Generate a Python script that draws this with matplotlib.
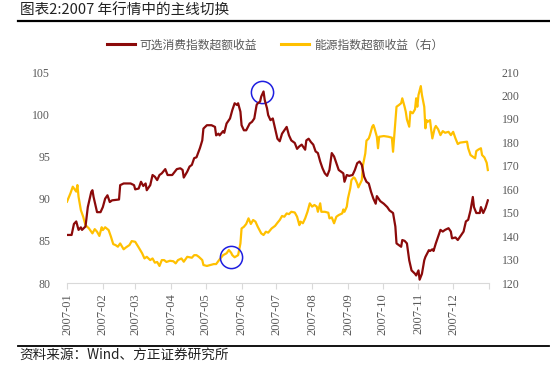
import matplotlib

matplotlib.use("Agg")
import matplotlib.pyplot as plt
import numpy as np
import pandas as pd
from matplotlib.lines import Line2D

plt.rcParams["font.family"] = ["Noto Sans CJK SC", "DejaVu Sans"]

# day offsets from 2007-01-01 and index values
red_day = [0, 4, 6, 8, 10, 12, 13, 16, 18, 21, 22, 23, 25, 26, 29, 31, 33, 35, 37, 39,
           45, 46, 49, 55, 58, 59, 62, 64, 66, 68, 69, 72, 74, 76, 78, 80, 82, 85, 87, 91,
           95, 98, 100, 101, 104, 106, 108, 110, 112, 115, 117, 118, 121, 125, 128, 129, 131, 132, 135, 136,
           138, 141, 143, 145, 147, 148, 150, 151, 153, 155, 158, 160, 162, 164, 165, 167, 168, 170, 171, 173,
           174, 176, 178, 180, 182, 184, 186, 189, 190, 192, 194, 197, 199, 201, 203, 206, 207, 209, 211, 213,
           215, 217, 219, 221, 223, 225, 227, 228, 229, 231, 233, 235, 237, 239, 240, 242, 244, 247, 249, 251,
           253, 255, 257, 259, 261, 263, 265, 267, 268, 271, 274, 277, 279, 282, 284, 285, 287, 289, 290, 292,
           294, 296, 298, 301, 302, 304, 305, 307, 309, 310, 313, 314, 316, 317, 319, 321, 323, 325, 327, 330,
           332, 333, 336, 338, 340, 343, 345, 347, 349, 351, 352, 354, 357, 358, 360, 362, 364]
red_val = [85.7, 85.7, 87.0, 87.3, 86.3, 86.6, 86.3, 86.7, 89.0, 90.8, 91.0, 90.2, 89.0, 88.4, 88.4, 89.0, 90.0, 90.4, 89.6, 89.8,
           89.9, 91.6, 91.8, 91.8, 91.6, 91.1, 91.2, 92.0, 91.5, 91.8, 91.0, 91.6, 92.8, 92.6, 92.2, 92.8, 93.0, 93.5, 92.8, 92.8,
           93.5, 93.6, 93.4, 92.5, 93.2, 93.8, 94.0, 94.8, 94.9, 96.0, 96.9, 98.3, 98.7, 98.7, 98.5, 97.5, 97.7, 97.5, 98.0, 97.8,
           98.9, 99.5, 100.5, 101.3, 101.1, 101.3, 100.3, 98.7, 98.1, 98.1, 98.9, 99.1, 99.5, 101.1, 101.3, 101.5, 102.1, 102.7, 101.7, 100.7,
           99.9, 99.3, 99.5, 98.3, 97.1, 96.8, 97.7, 98.3, 98.5, 97.5, 96.9, 96.6, 95.9, 96.2, 96.4, 95.8, 96.9, 97.1, 96.7, 96.4,
           95.6, 95.4, 94.4, 93.6, 93.0, 92.7, 93.4, 94.4, 95.4, 95.0, 94.2, 93.4, 93.2, 93.0, 92.0, 92.8, 92.7, 92.8, 93.4, 94.2,
           94.4, 94.0, 92.6, 92.0, 91.8, 90.8, 90.0, 89.4, 90.3, 89.7, 89.4, 89.0, 88.6, 88.3, 86.7, 84.7, 84.5, 84.3, 85.1, 85.0,
           84.7, 82.7, 81.5, 81.1, 80.9, 81.5, 80.4, 81.1, 82.7, 83.1, 83.9, 83.8, 84.0, 83.8, 84.7, 85.5, 86.3, 86.1, 86.3, 86.5,
           86.1, 85.3, 85.4, 85.1, 85.5, 86.1, 87.3, 87.5, 88.6, 90.2, 89.0, 88.3, 88.3, 89.0, 88.3, 88.9, 89.8]

yel_day = [0, 3, 5, 8, 9, 10, 12, 14, 16, 19, 22, 24, 26, 28, 30, 31, 33, 34, 36, 38,
           40, 42, 44, 46, 49, 51, 54, 56, 59, 62, 65, 67, 69, 72, 74, 76, 78, 80, 82, 84,
           86, 89, 92, 94, 96, 99, 101, 104, 106, 108, 110, 112, 114, 117, 118, 121, 124, 127, 129, 132,
           135, 138, 140, 142, 143, 145, 148, 150, 151, 153, 155, 157, 159, 161, 163, 165, 168, 170, 172, 174,
           177, 180, 182, 184, 186, 188, 190, 192, 194, 197, 199, 201, 202, 204, 206, 208, 210, 212, 214, 216,
           217, 219, 220, 223, 226, 227, 229, 231, 233, 235, 238, 239, 240, 242, 243, 245, 246, 248, 249, 251,
           252, 253, 255, 256, 258, 259, 261, 262, 264, 265, 266, 268, 269, 270, 274, 278, 281, 282, 283, 285,
           287, 289, 290, 292, 293, 294, 296, 297, 299, 301, 302, 303, 304, 306, 307, 309, 310, 311, 312, 314,
           315, 316, 318, 319, 321, 323, 325, 327, 330, 332, 334, 336, 338, 340, 346, 347, 349, 351, 353, 354,
           356, 358, 359, 361, 363, 364]
yel_val = [154.7, 158.3, 161.1, 159.0, 161.8, 156.8, 151.1, 148.3, 144.7, 143.3, 141.2, 143.0, 141.9, 140.1, 143.8, 142.6, 143.8, 143.4, 142.6, 139.8,
           136.6, 136.2, 135.5, 136.9, 134.4, 135.2, 136.2, 137.9, 137.6, 135.2, 132.7, 130.5, 131.2, 129.8, 130.5, 128.7, 129.0, 127.3, 129.8, 129.8,
           129.0, 129.5, 129.3, 128.4, 129.8, 130.5, 129.1, 131.2, 131.0, 130.8, 131.9, 131.9, 131.2, 129.8, 127.7, 127.3, 127.7, 128.1, 128.1, 130.1,
           131.9, 132.7, 134.1, 132.9, 131.9, 131.0, 131.9, 136.9, 143.3, 144.0, 145.2, 147.6, 145.2, 146.9, 146.2, 144.0, 141.2, 140.5, 141.9, 141.5,
           143.3, 144.4, 145.7, 146.9, 148.6, 148.3, 149.7, 149.4, 150.4, 150.1, 148.3, 144.7, 146.2, 145.5, 147.6, 150.4, 154.0, 152.6, 153.3, 152.6,
           150.4, 154.0, 150.4, 150.4, 150.0, 147.6, 148.0, 145.5, 148.3, 149.0, 149.7, 151.4, 150.4, 152.6, 156.1, 160.4, 163.9, 165.1, 164.7, 162.5,
           160.8, 161.8, 163.9, 170.3, 175.3, 180.7, 181.7, 183.1, 186.7, 187.4, 186.0, 182.4, 177.5, 182.4, 182.7, 182.4, 182.0, 176.0, 182.4, 195.2,
           195.9, 196.7, 198.8, 195.2, 193.1, 189.8, 186.7, 193.1, 192.4, 194.1, 198.8, 195.2, 200.2, 204.0, 200.2, 195.2, 186.0, 189.5, 188.8, 189.5,
           185.3, 181.7, 186.0, 187.0, 185.6, 183.1, 184.8, 184.1, 184.5, 183.1, 184.5, 181.7, 179.3, 179.9, 180.3, 177.5, 174.6, 173.9, 173.2, 176.3,
           177.0, 177.5, 174.6, 173.6, 171.3, 168.2]

month_labels = ["2007-01", "2007-02", "2007-03", "2007-04", "2007-05", "2007-06",
                "2007-07", "2007-08", "2007-09", "2007-10", "2007-11", "2007-12"]
red_name = "可选消费指数超额收益"
yel_name = "能源指数超额收益（右）"

RED = "#8B0A0A"
YEL = "#FFC000"
GREY = "#595959"
SERIF = ["Liberation Serif", "DejaVu Serif"]

month_start = pd.date_range("2007-01-01", periods=13, freq="MS")
tick_days = (month_start - pd.Timestamp("2007-01-01")).days.to_numpy()

fig = plt.figure(figsize=(5.5, 3.82), dpi=100)
ax = fig.add_axes([0.1218, 0.259, 0.7673, 0.5524])
ax2 = ax.twinx()

ax.plot(red_day, red_val, color=RED, lw=1.6, zorder=3)
ax2.plot(yel_day, yel_val, color=YEL, lw=1.6, zorder=2)
ax.set_zorder(ax2.get_zorder() + 1)
ax.patch.set_visible(False)

# blue circles marking the switch points
i_red = int(np.argmax(red_val))
ax.plot(red_day[i_red] - 1, red_val[i_red] - 0.1, marker="o", ms=16, mfc="none", mec="#1f1fe0", mew=1.1)
i_yel = yel_day.index(140)
ax2.plot(yel_day[i_yel] + 2, yel_val[i_yel] - 3, marker="o", ms=16, mfc="none", mec="#1f1fe0", mew=1.1)

ax.set_xlim(0, 365)
ax.set_ylim(80, 105)
ax2.set_ylim(120, 210)
ax.set_yticks(np.arange(80, 106, 5))
ax2.set_yticks(np.arange(120, 211, 10))
ax.set_xticks(tick_days)
ax.set_xticklabels(month_labels + [""], rotation=90, family=SERIF, fontsize=9, color=GREY)

for a in (ax, ax2):
    for s in ("top", "left", "right"):
        a.spines[s].set_visible(False)
    a.spines["bottom"].set_color("#d9d9d9")
ax2.spines["bottom"].set_visible(False)
ax.tick_params(axis="x", length=4, color="#d9d9d9", pad=3)
ax.tick_params(axis="y", length=0, pad=12)
ax2.tick_params(axis="y", length=0, pad=9)
for lab in ax.get_yticklabels() + ax2.get_yticklabels():
    lab.set_family(SERIF)
    lab.set_fontsize(8.5)
    lab.set_color(GREY)

handles = [Line2D([], [], color=RED, lw=2.2), Line2D([], [], color=YEL, lw=2.2)]
fig.legend(handles, [red_name, yel_name], loc="center", bbox_to_anchor=(0.5, 0.882), ncol=2,
           frameon=False, fontsize=8.5, handlelength=2.4, handletextpad=0.4, columnspacing=2.0,
           labelcolor=GREY)

fig.text(0.036, 0.971, "图表2:2007 年行情中的主线切换", fontsize=10.5, fontweight="medium",
         color="#222222", va="center", ha="left")
fig.add_artist(Line2D([0.033, 0.998], [0.946, 0.946], color="black", lw=1.6))
fig.add_artist(Line2D([0.033, 0.998], [0.094, 0.094], color="black", lw=1.3))
fig.text(0.036, 0.07, "资料来源：Wind、方正证券研究所", fontsize=9.8, style="italic",
         color="#222222", va="center", ha="left")

fig.savefig("out.png", dpi=100)
